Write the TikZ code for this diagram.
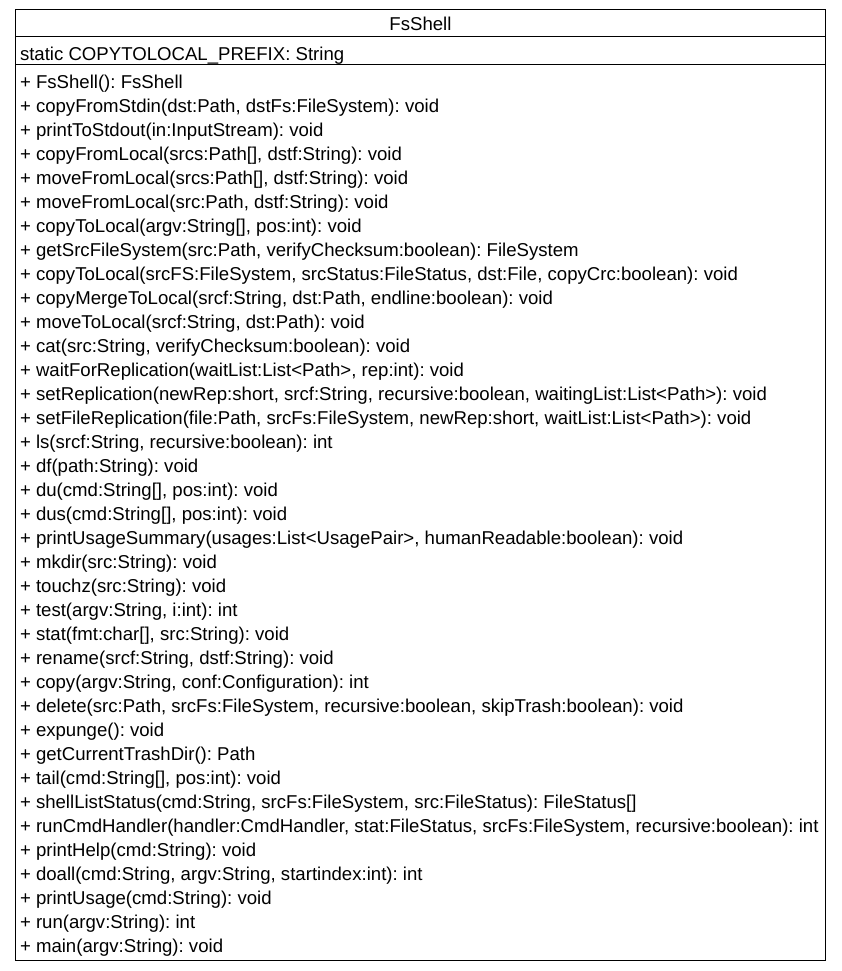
\documentclass[tikz,border=0pt]{standalone}
\usepackage{fontspec}
\setmainfont{Liberation Sans}
\frenchspacing
\begin{document}
\begin{tikzpicture}[x=1pt,y=-1pt,
  txt/.style={anchor=base west,inner sep=0pt,outer sep=0pt,font=\fontsize{18.6}{20}\selectfont},
  ttl/.style={anchor=base,inner sep=0pt,outer sep=0pt,font=\fontsize{18.6}{20}\selectfont},
  frame/.style={draw=black,line width=1pt}]
\useasboundingbox (0,0) rectangle (841,971);
\draw[frame] (15,10) rectangle (825,960);
\draw[frame] (15,36.5) -- (825,36.5);
\draw[frame] (15,65) -- (825,65);
\node[ttl] (title) at (420.5,30.5) {FsShell};
\node[txt] (attr) at (20,60.5) {static COPYTOLOCAL\_PREFIX: String};
\foreach \t [count=\i from 0] in {
{+ FsShell(): FsShell},
{+ copyFromStdin(dst:Path, dstFs:FileSystem): void},
{+ printToStdout(in:InputStream): void},
{+ copyFromLocal(srcs:Path[], dstf:String): void},
{+ moveFromLocal(srcs:Path[], dstf:String): void},
{+ moveFromLocal(src:Path, dstf:String): void},
{+ copyToLocal(argv:String[], pos:int): void},
{+ getSrcFileSystem(src:Path, verifyChecksum:boolean): FileSystem},
{+ copyToLocal(srcFS:FileSystem, srcStatus:FileStatus, dst:File, copyCrc:boolean): void},
{+ copyMergeToLocal(srcf:String, dst:Path, endline:boolean): void},
{+ moveToLocal(srcf:String, dst:Path): void},
{+ cat(src:String, verifyChecksum:boolean): void},
{+ waitForReplication(waitList:List<Path>, rep:int): void},
{+ setReplication(newRep:short, srcf:String, recursive:boolean, waitingList:List<Path>): void},
{+ setFileReplication(file:Path, srcFs:FileSystem, newRep:short, waitList:List<Path>): void},
{+ ls(srcf:String, recursive:boolean): int},
{+ df(path:String): void},
{+ du(cmd:String[], pos:int): void},
{+ dus(cmd:String[], pos:int): void},
{+ printUsageSummary(usages:List<UsagePair>, humanReadable:boolean): void},
{+ mkdir(src:String): void},
{+ touchz(src:String): void},
{+ test(argv:String, i:int): int},
{+ stat(fmt:char[], src:String): void},
{+ rename(srcf:String, dstf:String): void},
{+ copy(argv:String, conf:Configuration): int},
{+ delete(src:Path, srcFs:FileSystem, recursive:boolean, skipTrash:boolean): void},
{+ expunge(): void},
{+ getCurrentTrashDir(): Path},
{+ tail(cmd:String[], pos:int): void},
{+ shellListStatus(cmd:String, srcFs:FileSystem, src:FileStatus): FileStatus[]},
{+ runCmdHandler(handler:CmdHandler, stat:FileStatus, srcFs:FileSystem, recursive:boolean): int},
{+ printHelp(cmd:String): void},
{+ doall(cmd:String, argv:String, startindex:int): int},
{+ printUsage(cmd:String): void},
{+ run(argv:String): int},
{+ main(argv:String): void}}
  \node[txt] (m\i) at (20,88.5+24*\i) {\t};
\end{tikzpicture}
\end{document}
